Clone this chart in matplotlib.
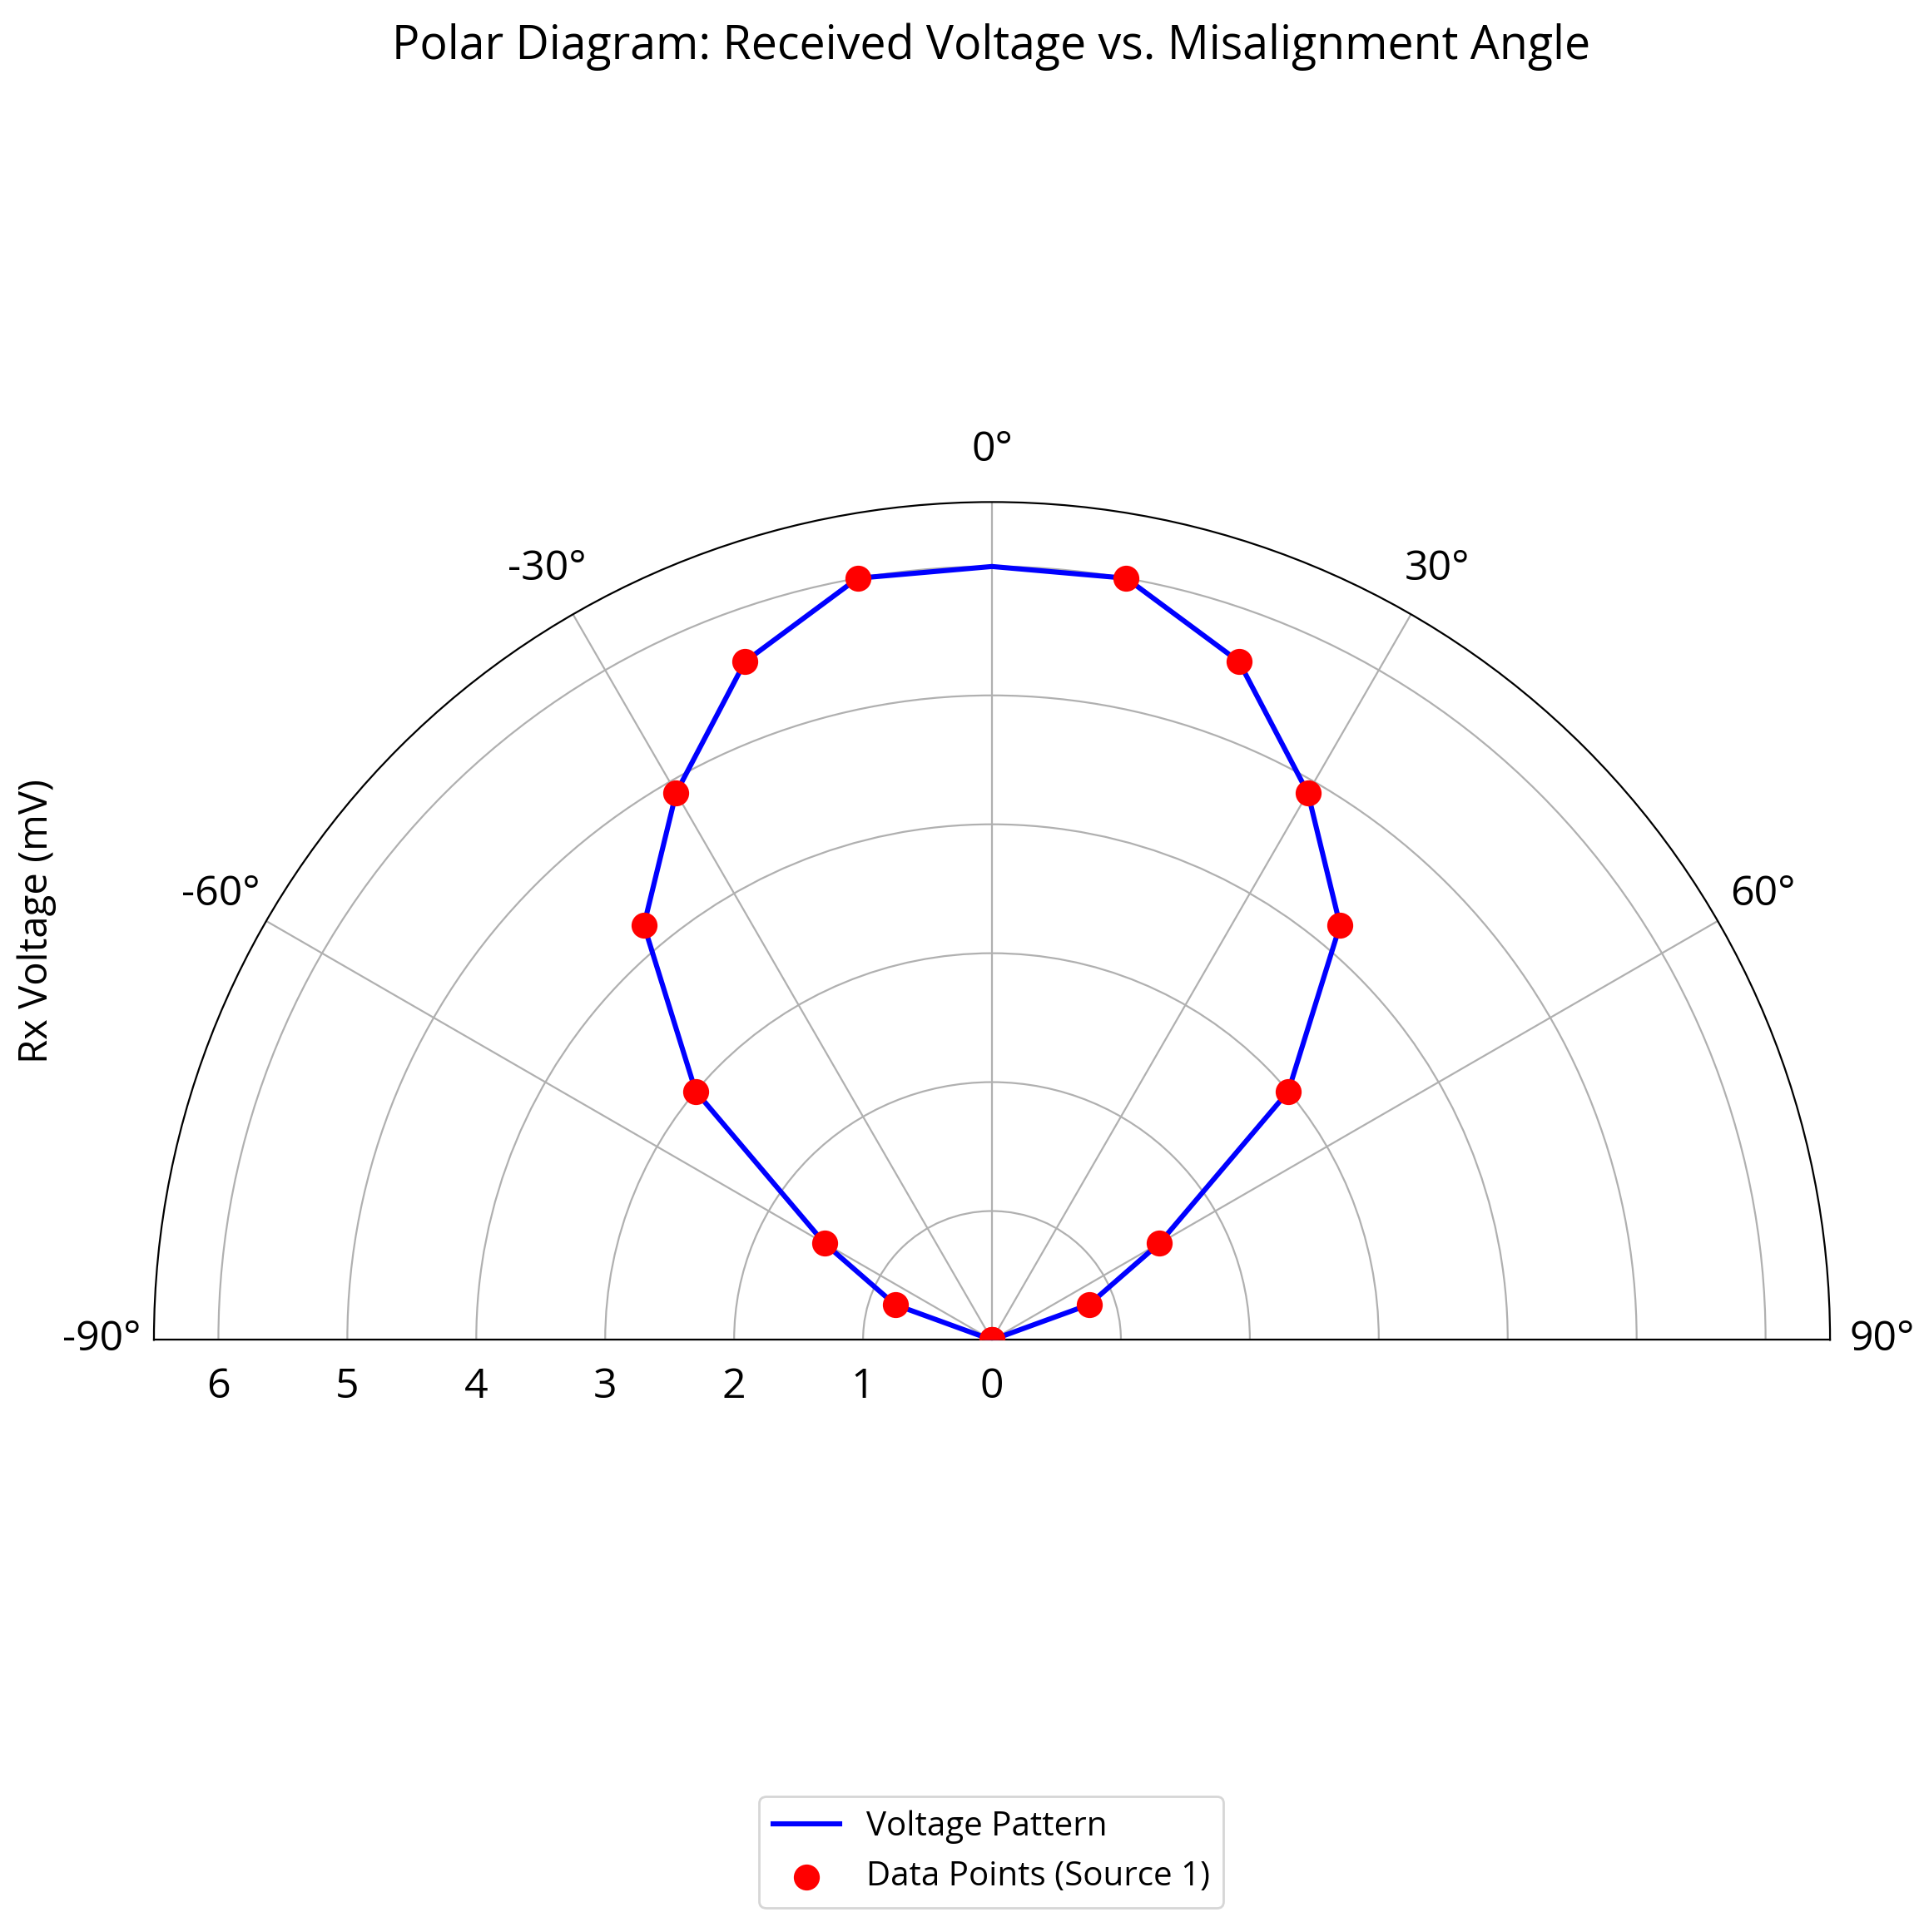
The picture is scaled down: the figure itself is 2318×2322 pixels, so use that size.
import numpy as np
import matplotlib
matplotlib.use("Agg")
from matplotlib import pyplot as plt

# angles in degrees, voltages in mV
angles_deg = [-90, -70, -60, -50, -40, -30, -20, -10, 0, 10, 20, 30, 40, 50, 60, 70, 90]
voltage_mv = [0.0, 0.8, 1.5, 3.0, 4.2, 4.9, 5.6, 6.0, 6.0, 6.0, 5.6, 4.9, 4.2, 3.0, 1.5, 0.8, 0.0]
# measured points (no marker at 0 deg)
point_angles = [a for a in angles_deg if a != 0]
point_volts = [v for a, v in zip(angles_deg, voltage_mv) if a != 0]

theta_ticks = [-90, -60, -30, 0, 30, 60, 90]
r_ticks = [0, 1, 2, 3, 4, 5, 6]

plt.rcParams['font.family'] = ['Open Sans', 'DejaVu Sans']

def main():
    fig = plt.figure(figsize=(11.59, 11.61), dpi=200)
    # square box, the half disc sits in its middle
    ax = fig.add_axes([0.0798, 0.0896, 0.8689, 0.8674], projection='polar')
    ax.set_theta_zero_location('N')
    ax.set_theta_direction(-1)
    ax.set_thetamin(-90)
    ax.set_thetamax(90)
    ax.set_rlim(0, 6.5)

    ax.plot(np.deg2rad(angles_deg), voltage_mv, color='blue', lw=2.2,
            label='Voltage Pattern', zorder=3)
    ax.scatter(np.deg2rad(point_angles), point_volts, color='red', s=105,
               label='Data Points (Source 1)', zorder=4)

    ax.set_thetagrids(theta_ticks, [f'{t}°' for t in theta_ticks])
    ax.set_rticks(r_ticks)
    ax.set_yticklabels([str(r) for r in r_ticks])
    ax.tick_params(axis='x', labelsize=18, pad=12)
    ax.tick_params(axis='y', labelsize=18, pad=8)
    ax.grid(True, color='#b0b0b0', lw=0.8)
    ax.set_ylabel('Rx Voltage (mV)', fontsize=17, labelpad=42)

    fig.suptitle('Polar Diagram: Received Voltage vs. Misalignment Angle',
                 x=0.514, y=0.988, va='top', fontsize=20)
    fig.legend(loc='lower center', bbox_to_anchor=(0.514, 0.004), fontsize=14.5)

    fig.savefig('out.png', dpi=200)


if __name__ == "__main__":
    main()
